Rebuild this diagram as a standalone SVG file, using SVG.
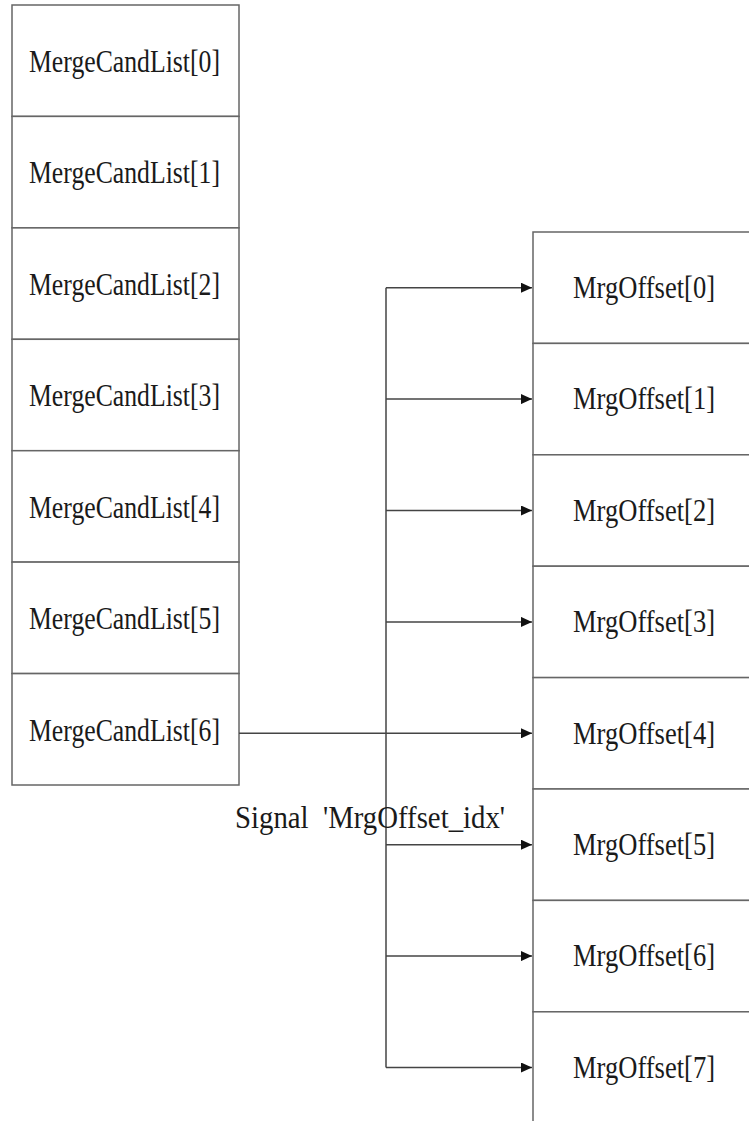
<svg xmlns="http://www.w3.org/2000/svg" width="749" height="1121" viewBox="0 0 749 1121">
<style>
.box{fill:#fff;stroke:#666;stroke-width:1.5}
.t{font-family:"Liberation Serif",serif;font-size:32px;fill:#1a1a1a}
.c{fill:none;stroke:#444;stroke-width:1.5}
</style>
<defs>
<marker id="ah" markerWidth="11" markerHeight="10" refX="11" refY="5" orient="auto" markerUnits="userSpaceOnUse">
<path d="M0,0 L11,5 L0,10 Z" fill="#111"/>
</marker>
</defs>
<rect width="749" height="1121" fill="#fff"/>
<g id="mcl0"><rect class="box" x="12" y="5" width="227" height="111.4"/><text class="t" x="29" y="72" textLength="191" lengthAdjust="spacingAndGlyphs">MergeCandList[0]</text></g>
<g id="mcl1"><rect class="box" x="12" y="116.4" width="227" height="111.4"/><text class="t" x="29" y="183.4" textLength="191" lengthAdjust="spacingAndGlyphs">MergeCandList[1]</text></g>
<g id="mcl2"><rect class="box" x="12" y="227.9" width="227" height="111.4"/><text class="t" x="29" y="294.9" textLength="191" lengthAdjust="spacingAndGlyphs">MergeCandList[2]</text></g>
<g id="mcl3"><rect class="box" x="12" y="339.3" width="227" height="111.4"/><text class="t" x="29" y="406.3" textLength="191" lengthAdjust="spacingAndGlyphs">MergeCandList[3]</text></g>
<g id="mcl4"><rect class="box" x="12" y="450.7" width="227" height="111.4"/><text class="t" x="29" y="517.7" textLength="191" lengthAdjust="spacingAndGlyphs">MergeCandList[4]</text></g>
<g id="mcl5"><rect class="box" x="12" y="562.1" width="227" height="111.4"/><text class="t" x="29" y="629.1" textLength="191" lengthAdjust="spacingAndGlyphs">MergeCandList[5]</text></g>
<g id="mcl6"><rect class="box" x="12" y="673.6" width="227" height="111.4"/><text class="t" x="29" y="740.6" textLength="191" lengthAdjust="spacingAndGlyphs">MergeCandList[6]</text></g>

<g id="mo0"><rect class="box" x="533" y="232" width="230" height="111.4"/><text class="t" x="573" y="298" textLength="142" lengthAdjust="spacingAndGlyphs">MrgOffset[0]</text></g>
<g id="mo1"><rect class="box" x="533" y="343.4" width="230" height="111.4"/><text class="t" x="573" y="409.4" textLength="142" lengthAdjust="spacingAndGlyphs">MrgOffset[1]</text></g>
<g id="mo2"><rect class="box" x="533" y="454.8" width="230" height="111.4"/><text class="t" x="573" y="520.8" textLength="142" lengthAdjust="spacingAndGlyphs">MrgOffset[2]</text></g>
<g id="mo3"><rect class="box" x="533" y="566.2" width="230" height="111.4"/><text class="t" x="573" y="632.2" textLength="142" lengthAdjust="spacingAndGlyphs">MrgOffset[3]</text></g>
<g id="mo4"><rect class="box" x="533" y="677.6" width="230" height="111.4"/><text class="t" x="573" y="743.6" textLength="142" lengthAdjust="spacingAndGlyphs">MrgOffset[4]</text></g>
<g id="mo5"><rect class="box" x="533" y="789" width="230" height="111.4"/><text class="t" x="573" y="855" textLength="142" lengthAdjust="spacingAndGlyphs">MrgOffset[5]</text></g>
<g id="mo6"><rect class="box" x="533" y="900.4" width="230" height="111.4"/><text class="t" x="573" y="966.4" textLength="142" lengthAdjust="spacingAndGlyphs">MrgOffset[6]</text></g>
<g id="mo7"><rect class="box" x="533" y="1011.8" width="230" height="111.4"/><text class="t" x="573" y="1077.8" textLength="142" lengthAdjust="spacingAndGlyphs">MrgOffset[7]</text></g>

<g id="connectors">
<path class="c" d="M386,287.7 V1067.5"/>
<path class="c" d="M386,287.7 H532" marker-end="url(#ah)"/>
<path class="c" d="M386,399.1 H532" marker-end="url(#ah)"/>
<path class="c" d="M386,510.5 H532" marker-end="url(#ah)"/>
<path class="c" d="M386,621.9 H532" marker-end="url(#ah)"/>
<path class="c" d="M239,733.3 H532" marker-end="url(#ah)"/>
<path class="c" d="M386,844.7 H532" marker-end="url(#ah)"/>
<path class="c" d="M386,956.1 H532" marker-end="url(#ah)"/>
<path class="c" d="M386,1067.5 H532" marker-end="url(#ah)"/>
</g>
<g id="signal-label"><text class="t" x="235" y="828" textLength="270" lengthAdjust="spacingAndGlyphs" xml:space="preserve">Signal  'MrgOffset_idx'</text></g>
</svg>
